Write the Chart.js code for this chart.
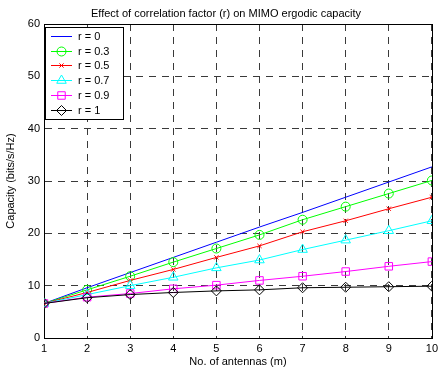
<!DOCTYPE html>
<html>
<head>
<meta charset="utf-8">
<script src="https://cdn.jsdelivr.net/npm/chart.js@4.4.1/dist/chart.umd.min.js"></script>
<style>
  html, body { margin: 0; padding: 0; background: #fff; }
  #wrap { width: 442px; height: 372px; }
</style>
</head>
<body>
<div id="wrap"><canvas id="capacityChart" width="442" height="372"></canvas></div>
<script>
// number of antennas (m)
const antennas = [1, 2, 3, 4, 5, 6, 7, 8, 9, 10];

// ergodic capacity (bits/s/Hz) for each correlation factor r
const capR0  = [6.6, 9.6, 12.5, 15.4, 18.3, 21.2, 24.0, 26.9, 29.8, 32.7];
const capR03 = [6.6, 9.2, 11.8, 14.5, 17.1, 19.7, 22.6, 25.1, 27.6, 30.1];
const capR05 = [6.6, 8.7, 11.0, 13.1, 15.4, 17.6, 20.3, 22.4, 24.7, 26.9];
const capR07 = [6.6, 8.3, 10.0, 11.6, 13.4, 14.9, 16.9, 18.7, 20.5, 22.4];
const capR09 = [6.6, 7.8, 8.5, 9.4, 10.1, 11.0, 11.8, 12.7, 13.7, 14.6];
const capR1  = [6.6, 7.7, 8.3, 8.7, 9.0, 9.2, 9.6, 9.7, 9.8, 9.9];

const seriesLabels = ['r = 0', 'r = 0.3', 'r = 0.5', 'r = 0.7', 'r = 0.9', 'r = 1'];
const yTicks = [0, 10, 20, 30, 40, 50, 60];

const FONT = "'Liberation Sans', Arial, sans-serif";

function toPoints(values) {
    return antennas.map((m, i) => ({ x: m, y: values[i] }));
}

// series styles (marker, colour)
const styles = [
    { color: '#0000ff', pointStyle: false, radius: 0 },
    { color: '#00ff00', pointStyle: 'circle', radius: 4.5 },
    { color: '#ff0000', pointStyle: 'crossRot', radius: 3 },
    { color: '#00ffff', pointStyle: 'triangle', radius: 5.5 },
    { color: '#ff00ff', pointStyle: 'rect', radius: 5.3 },
    { color: '#000000', pointStyle: 'rectRot', radius: 5 }
];

const allSeries = [capR0, capR03, capR05, capR07, capR09, capR1];

const datasets = allSeries.map((vals, i) => ({
    label: seriesLabels[i],
    data: toPoints(vals),
    borderColor: styles[i].color,
    backgroundColor: 'rgba(0,0,0,0)',
    borderWidth: 1,
    pointStyle: styles[i].pointStyle,
    pointRadius: styles[i].radius,
    pointBorderColor: styles[i].color,
    pointBackgroundColor: 'rgba(0,0,0,0)',
    pointBorderWidth: 1,
    tension: 0,
    order: allSeries.length - i
}));

// title above the axes
const titlePlugin = {
    id: 'plotTitle',
    afterDraw(chart) {
        const ctx = chart.ctx;
        ctx.save();
        ctx.fillStyle = '#000';
        ctx.font = '11px ' + FONT;
        ctx.textAlign = 'center';
        ctx.textBaseline = 'middle';
        ctx.fillText('Effect of correlation factor (r) on MIMO ergodic capacity', 226, 14);
        ctx.restore();
    }
};

// closed box around the plot
const framePlugin = {
    id: 'frame',
    beforeDatasetsDraw(chart) {
        const a = chart.chartArea;
        const ctx = chart.ctx;
        ctx.save();
        ctx.strokeStyle = '#000';
        ctx.lineWidth = 1;
        ctx.strokeRect(Math.round(a.left) + 0.5, Math.round(a.top) + 0.5,
            Math.round(a.right - a.left), Math.round(a.bottom - a.top));
        ctx.restore();
    }
};

// boxed legend in the upper-left corner
const legendPlugin = {
    id: 'boxLegend',
    afterDatasetsDraw(chart) {
        const ctx = chart.ctx;
        const a = chart.chartArea;
        const left = Math.round(a.left) + 1;
        const top = Math.round(a.top) + 3;
        const w = 78, h = 92, rowH = 14.7;
        ctx.save();
        ctx.fillStyle = '#fff';
        ctx.fillRect(left, top, w, h);
        ctx.strokeStyle = '#000';
        ctx.lineWidth = 1;
        ctx.strokeRect(left + 0.5, top + 0.5, w, h);
        chart.data.datasets.forEach((ds, i) => {
            const y = Math.round(top + 9 + i * rowH) + 0.5;
            ctx.strokeStyle = ds.borderColor;
            ctx.lineWidth = 1;
            ctx.beginPath();
            ctx.moveTo(left + 6, y);
            ctx.lineTo(left + 27, y);
            ctx.stroke();
            if (ds.pointStyle) {
                ctx.fillStyle = 'rgba(0,0,0,0)';
                Chart.helpers.drawPoint(ctx, {
                    pointStyle: ds.pointStyle,
                    radius: ds.pointRadius,
                    borderWidth: 1,
                    rotation: 0
                }, left + 16.5, y);
            }
            ctx.fillStyle = '#000';
            ctx.font = '11px ' + FONT;
            ctx.textAlign = 'left';
            ctx.textBaseline = 'middle';
            ctx.fillText(ds.label, left + 33, y);
        });
        ctx.restore();
    }
};

const gridStyle = {
    color: '#3a3a3a',
    lineWidth: 1,
    drawTicks: false
};

new Chart(document.getElementById('capacityChart'), {
    type: 'line',
    data: { datasets: datasets },
    options: {
        responsive: false,
        animation: false,
        layout: { padding: { top: 24, right: 6, left: 0, bottom: 0 } },
        plugins: {
            legend: { display: false },
            title: { display: false },
            tooltip: { enabled: false }
        },
        scales: {
            x: {
                type: 'linear',
                min: antennas[0],
                max: antennas[antennas.length - 1],
                grid: gridStyle,
                border: { color: '#000', dash: [7, 6] },
                ticks: {
                    stepSize: 1,
                    padding: 4,
                    color: '#000',
                    font: { family: FONT, size: 11 }
                },
                title: {
                    display: true,
                    text: 'No. of antennas (m)',
                    color: '#000',
                    font: { family: FONT, size: 11 },
                    padding: { top: 2, bottom: 3 }
                },
                afterFit(scale) { scale.height = 34; }
            },
            y: {
                min: yTicks[0],
                max: yTicks[yTicks.length - 1],
                grid: gridStyle,
                border: { color: '#000', dash: [7, 6] },
                afterBuildTicks(scale) {
                    scale.ticks = yTicks.map(v => ({ value: v }));
                },
                ticks: {
                    padding: 4,
                    color: '#000',
                    font: { family: FONT, size: 11 }
                },
                title: {
                    display: true,
                    text: 'Capacity (bits/s/Hz)',
                    color: '#000',
                    font: { family: FONT, size: 11 },
                    padding: { top: 4, bottom: 2 }
                },
                afterFit(scale) { scale.width = 44; }
            }
        }
    },
    plugins: [framePlugin, legendPlugin, titlePlugin]
});
</script>
</body>
</html>
